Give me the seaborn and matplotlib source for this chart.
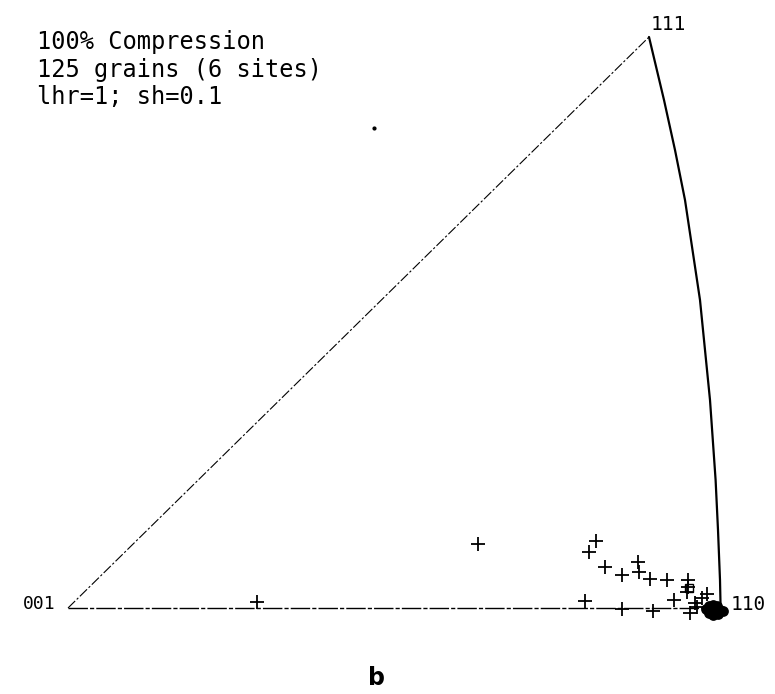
import numpy as np
import pandas as pd
import matplotlib
matplotlib.use("Agg")
import matplotlib.pyplot as plt
import seaborn as sns

# inverse pole figure, coordinates given in picture units (0..775 x 0..694, y down)
corner_names = ["001", "110", "111"]
corner_x = [68, 721, 649]
corner_y = [608, 608, 37]

# great-circle edge 111 -> 110
arc_x = [649, 664, 675, 685, 700, 710, 715.6, 718, 720, 720.6]
arc_y = [37, 100, 150, 200, 300, 400, 480, 530, 580, 608]

# scattered grain orientations (+ markers)
grain_x = [257, 478, 596, 589, 605, 622, 585, 622, 638, 639, 650, 667, 688, 688,
           687, 674, 707, 702, 695, 653, 690, 697]
grain_y = [602, 544, 541, 552, 567, 575, 601, 609, 562, 572, 579, 580, 580, 587,
           592, 600, 594, 598, 603, 611, 613, 607]

# grains piled up at 110
pile_x = [706, 709, 713, 717, 720, 718, 713, 709, 714, 717, 711, 723]
pile_y = [609, 606, 605, 606, 610, 614, 615, 613, 610, 609, 609, 611]

sq_x, sq_y = [689], [588]

notes = ["100% Compression", "125 grains (6 sites)", "lhr=1; sh=0.1"]

sns.set_style("white")
fig = plt.figure(figsize=(7.75, 6.94), dpi=100)
ax = fig.add_axes([0, 0, 1, 1])

left = pd.DataFrame({"x": [corner_x[0], corner_x[2]], "y": [corner_y[0], corner_y[2]]})
bottom = pd.DataFrame({"x": [corner_x[0], corner_x[1]], "y": [corner_y[0], corner_y[1]]})
arc = pd.DataFrame({"x": arc_x, "y": arc_y})

sns.lineplot(data=left, x="x", y="y", sort=False, ax=ax, color="black", lw=0.8,
             linestyle=(0, (9, 2, 2, 2)))
sns.lineplot(data=bottom, x="x", y="y", sort=False, ax=ax, color="black", lw=1.0,
             linestyle=(0, (14, 1.5, 3, 1.5)))
sns.lineplot(data=arc, x="x", y="y", sort=False, ax=ax, color="black", lw=1.6)

grains = pd.DataFrame({"x": grain_x, "y": grain_y})
sns.scatterplot(data=grains, x="x", y="y", ax=ax, marker="+", s=90, color="black",
                linewidth=1.3)
pile = pd.DataFrame({"x": pile_x, "y": pile_y})
sns.scatterplot(data=pile, x="x", y="y", ax=ax, marker="o", s=60, color="black",
                edgecolor="black", linewidth=0)
ax.plot(sq_x, sq_y, marker="s", ms=6, mfc="none", mec="black", mew=1, ls="none")
ax.plot([374], [128], marker="o", ms=2, color="black", ls="none")

font = "DejaVu Sans Mono"
ax.text(corner_x[0] - 12, corner_y[0] - 4, corner_names[0], ha="right", va="center",
        fontsize=13, family=font, color="black")
ax.text(corner_x[1] + 10, corner_y[1] - 4, corner_names[1], ha="left", va="center",
        fontsize=14, family=font, color="black")
ax.text(corner_x[2] + 19, corner_y[2] - 13, corner_names[2], ha="center", va="center",
        fontsize=14, family=font, color="black")
for i, line in enumerate(notes):
    ax.text(37, 42 + i * 27.5, line, ha="left", va="center", fontsize=17, family=font,
            color="black")

ax.text(377, 678, "b", ha="center", va="center", fontsize=17, fontweight="bold",
        family="DejaVu Sans", color="black")

ax.set_xlim(0, 775)
ax.set_ylim(694, 0)
ax.axis("off")

fig.savefig("out.png", dpi=100)
